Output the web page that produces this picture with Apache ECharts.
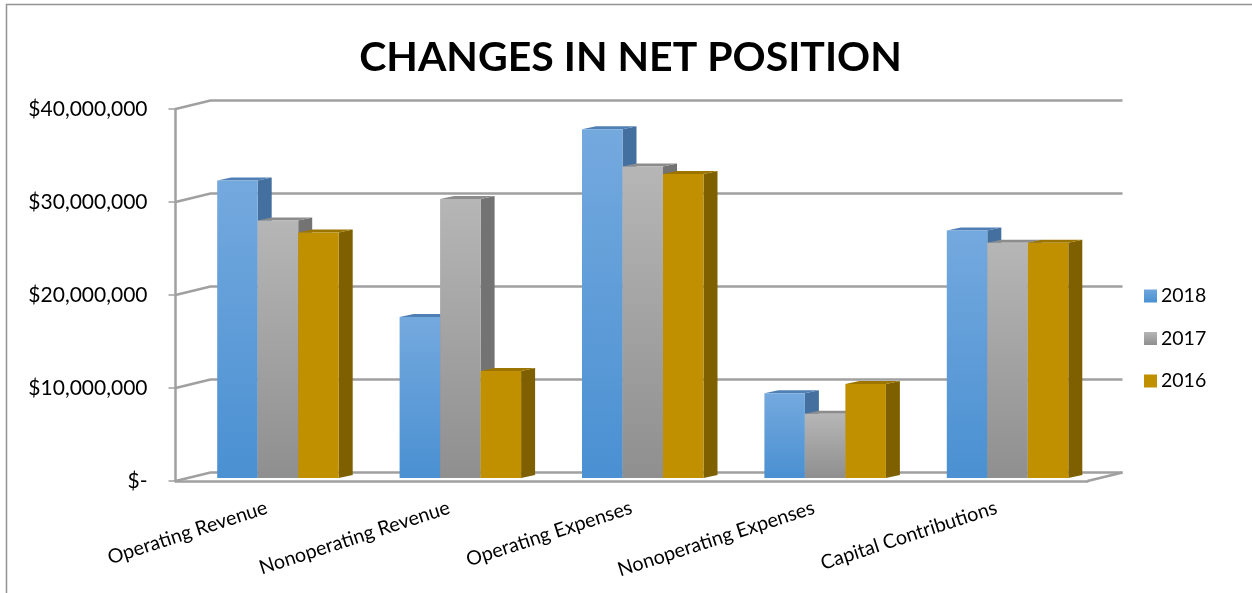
<!DOCTYPE html>
<html>
<head>
<meta charset="utf-8">
<style>html,body{margin:0;padding:0;background:#fff}#chart{width:1252px;height:593px}</style>
<script src="https://cdn.jsdelivr.net/npm/echarts@6/dist/echarts.min.js"></script>
</head>
<body>
<div id="chart"></div>
<script>
// Changes in net position, by category and fiscal year
const categories = ['Operating Revenue', 'Nonoperating Revenue', 'Operating Expenses', 'Nonoperating Expenses', 'Capital Contributions'];
const values2018 = [32000000, 17300000, 37500000, 9100000, 26600000];
const values2017 = [27700000, 30000000, 33500000, 6900000, 25300000];
const values2016 = [26400000, 11500000, 32700000, 10100000, 25300000];
const axisTicks = [0, 10000000, 20000000, 30000000, 40000000];

// Oblique projection used for the walls and for the bar depth
const WALL_DX = 35, WALL_DY = -8.5;
const BAR_DX = 14, BAR_DY = -3;
const BAR_W = 40.5;
const BAR_BASE_LIFT = 3;
const GROUP_OFFSET = -49.5;

const vGrad = (a, b) => new echarts.graphic.LinearGradient(0, 0, 0, 1, [
  { offset: 0, color: a }, { offset: 1, color: b }
]);

const money = v => v === 0 ? '$-' : '$' + v.toLocaleString('en-US');

function wallSeries() {
  return {
    type: 'custom',
    silent: true,
    z: 1,
    data: axisTicks.map(v => [0, v]),
    encode: { y: 1 },
    renderItem(params, api) {
      const p = api.coord([0, api.value(1)]);
      const rect = params.coordSys;
      const left = rect.x, right = rect.x + rect.width;
      return {
        type: 'polyline',
        shape: { points: [[left, p[1]], [left + WALL_DX, p[1] + WALL_DY], [right + WALL_DX, p[1] + WALL_DY]] },
        style: { stroke: '#a0a0a0', lineWidth: 2.5, fill: null }
      };
    }
  };
}

function floorEdgeSeries() {
  return {
    type: 'custom',
    silent: true,
    z: 1,
    data: [[0, 0]],
    encode: { y: 1 },
    renderItem(params, api) {
      const p = api.coord([0, 0]);
      const right = params.coordSys.x + params.coordSys.width;
      return {
        type: 'line',
        shape: { x1: right, y1: p[1], x2: right + WALL_DX, y2: p[1] + WALL_DY },
        style: { stroke: '#a0a0a0', lineWidth: 2.5 }
      };
    }
  };
}

function barSeries(name, values, slot, colors) {
  return {
    name,
    type: 'custom',
    z: 3,
    itemStyle: { color: colors.legend },
    data: values.map((v, i) => [i, v]),
    encode: { x: 0, y: 1 },
    renderItem(params, api) {
      const top = api.coord([api.value(0), api.value(1)]);
      const zero = api.coord([api.value(0), 0]);
      const x0 = top[0] + GROUP_OFFSET + slot * BAR_W;
      const x1 = x0 + BAR_W;
      const yTop = top[1] - BAR_BASE_LIFT;
      const yBase = zero[1] - BAR_BASE_LIFT;
      return {
        type: 'group',
        children: [
          {
            type: 'polygon',
            shape: { points: [[x1, yTop], [x1 + BAR_DX, yTop + BAR_DY], [x1 + BAR_DX, yBase + BAR_DY], [x1, yBase]] },
            style: { fill: colors.side }
          },
          {
            type: 'polygon',
            shape: { points: [[x0, yTop], [x0 + BAR_DX, yTop + BAR_DY], [x1 + BAR_DX, yTop + BAR_DY], [x1, yTop]] },
            style: { fill: colors.top }
          },
          {
            type: 'rect',
            shape: { x: x0, y: yTop, width: BAR_W, height: yBase - yTop },
            style: { fill: colors.front }
          }
        ]
      };
    }
  };
}

const chart = echarts.init(document.getElementById('chart'), null, { renderer: 'canvas' });
chart.setOption({
  backgroundColor: '#ffffff',
  animation: false,
  title: {
    text: 'CHANGES IN NET POSITION',
    left: 625.5, top: 32, textAlign: 'center',
    textStyle: { fontFamily: 'Lato', fontWeight: 'bold', fontSize: 41, color: '#000' }
  },
  graphic: [{
    type: 'polyline', silent: true, z: 0,
    shape: { points: [[6.5, 593], [6.5, 4.5], [1252, 4.5]] },
    style: { stroke: '#929292', lineWidth: 1.5, fill: null }
  }],
  legend: {
    orient: 'vertical',
    left: 1139, top: 281,
    itemWidth: 13, itemHeight: 13, itemGap: 22.5,
    icon: 'rect',
    selectedMode: false,
    data: ['2018', '2017', '2016'],
    textStyle: { fontFamily: 'Lato', fontSize: 19.5, color: '#000', padding: [0, 0, 0, -1] }
  },
  grid: { left: 175.5, top: 109, width: 912, height: 372, containLabel: false },
  xAxis: {
    type: 'category',
    data: categories,
    boundaryGap: true,
    axisLine: { lineStyle: { color: '#a0a0a0', width: 2.5 } },
    axisTick: { length: 6, alignWithLabel: false, lineStyle: { color: '#a0a0a0', width: 1.5 } },
    axisLabel: {
      interval: 0, rotate: 18, margin: 26,
      fontFamily: 'Lato', fontSize: 19.7, color: '#000'
    }
  },
  yAxis: {
    type: 'value',
    min: 0, max: 40000000, interval: 10000000,
    splitLine: { show: false },
    axisLine: { show: true, lineStyle: { color: '#a0a0a0', width: 2.5 } },
    axisTick: { show: true, length: 7, lineStyle: { color: '#a0a0a0', width: 1.5 } },
    axisLabel: {
      formatter: money, margin: 28,
      fontFamily: 'Lato', fontSize: 21, color: '#000'
    }
  },
  series: [
    wallSeries(),
    floorEdgeSeries(),
    barSeries('2018', values2018, 0, {
      front: vGrad('#74a9de', '#4a90d2'), top: '#4f7fb5', side: '#44709f', legend: vGrad('#6ea6dd', '#4a90d2')
    }),
    barSeries('2017', values2017, 1, {
      front: vGrad('#b6b6b6', '#8f8f8f'), top: '#8c8c8c', side: '#737373', legend: vGrad('#b6b6b6', '#8f8f8f')
    }),
    barSeries('2016', values2016, 2, {
      front: '#c09000', top: '#9c7500', side: '#7f6000', legend: '#c09000'
    })
  ]
});
</script>
</body>
</html>
